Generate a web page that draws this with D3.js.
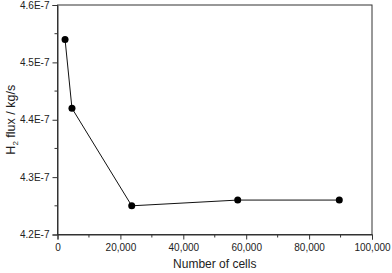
<!DOCTYPE html>
<html>
<head>
<meta charset="utf-8">
<script src="https://cdn.jsdelivr.net/npm/d3@7"></script>
<style>
  body { margin: 0; background: #fff; }
  text { font-family: "Liberation Sans", Arial, sans-serif; fill: #222; }
</style>
</head>
<body>
<script>
// data
const cells = [2400, 4600, 23600, 57300, 89600];
const flux = [4.54e-7, 4.42e-7, 4.25e-7, 4.26e-7, 4.26e-7];
const yTicks = [4.2e-7, 4.3e-7, 4.4e-7, 4.5e-7, 4.6e-7];
const yTickLabels = ["4.2E-7", "4.3E-7", "4.4E-7", "4.5E-7", "4.6E-7"];
const xTicks = [0, 20000, 40000, 60000, 80000, 100000];
const xTickLabels = ["0", "20,000", "40,000", "60,000", "80,000", "100,000"];

const W = 392, H = 273;
const margin = {top: 5, right: 20, bottom: 38.5, left: 57.5};
const width = W - margin.left - margin.right,
      height = H - margin.top - margin.bottom;

const svg = d3.select("body").append("svg")
  .attr("width", W).attr("height", H);
const g = svg.append("g")
  .attr("transform", "translate(" + margin.left + "," + margin.top + ")");

const x = d3.scaleLinear().domain([0, 100000]).range([0, width]);
const y = d3.scaleLinear().domain([4.2e-7, 4.6e-7]).range([height, 0]);

const pts = cells.map((c, i) => ({x: c, y: flux[i]}));

// frame
g.append("rect").attr("width", width).attr("height", height)
  .attr("fill", "none").attr("stroke", "#333").attr("stroke-width", 1);

// minor ticks
const xMinor = d3.range(10000, 100000, 20000);
g.selectAll(".xminor").data(xMinor).join("line")
  .attr("x1", d => x(d)).attr("x2", d => x(d))
  .attr("y1", height).attr("y2", height + 3)
  .attr("stroke", "#333");
const yMinor = d3.range(4.25e-7, 4.6e-7, 1e-8);
g.selectAll(".yminor").data(yMinor).join("line")
  .attr("x1", -3).attr("x2", 0)
  .attr("y1", d => y(d)).attr("y2", d => y(d))
  .attr("stroke", "#333");

// axes
const xAxis = d3.axisBottom(x).tickValues(xTicks)
  .tickFormat((d, i) => xTickLabels[i]).tickSize(5).tickPadding(4);
const yAxis = d3.axisLeft(y).tickValues(yTicks)
  .tickFormat((d, i) => yTickLabels[i]).tickSize(5).tickPadding(3);

const gx = g.append("g").attr("transform", "translate(0," + height + ")").call(xAxis);
const gy = g.append("g").call(yAxis);
[gx, gy].forEach(a => {
  a.select(".domain").attr("stroke", "#333");
  a.selectAll(".tick line").attr("stroke", "#333");
  a.selectAll("text").attr("font-size", 10).attr("font-family", "Liberation Sans, Arial, sans-serif").attr("fill", "#222");
});

// line + markers
g.append("path").datum(pts)
  .attr("fill", "none").attr("stroke", "#111").attr("stroke-width", 1)
  .attr("d", d3.line().x(d => x(d.x)).y(d => y(d.y)));
g.selectAll(".dot").data(pts).join("circle")
  .attr("cx", d => x(d.x)).attr("cy", d => y(d.y)).attr("r", 3.5)
  .attr("fill", "#000");

// axis titles
svg.append("text")
  .attr("x", margin.left + width / 2).attr("y", 268)
  .attr("text-anchor", "middle").attr("font-size", 12)
  .text("Number of cells");

const yt = svg.append("text")
  .attr("transform", "translate(15," + (margin.top + height / 2) + ") rotate(-90)")
  .attr("text-anchor", "middle").attr("font-size", 12.5);
yt.append("tspan").text("H");
yt.append("tspan").attr("font-size", 8).attr("dy", 3).text("2");
yt.append("tspan").attr("dy", -3).text(" flux / kg/s");
</script>
</body>
</html>
